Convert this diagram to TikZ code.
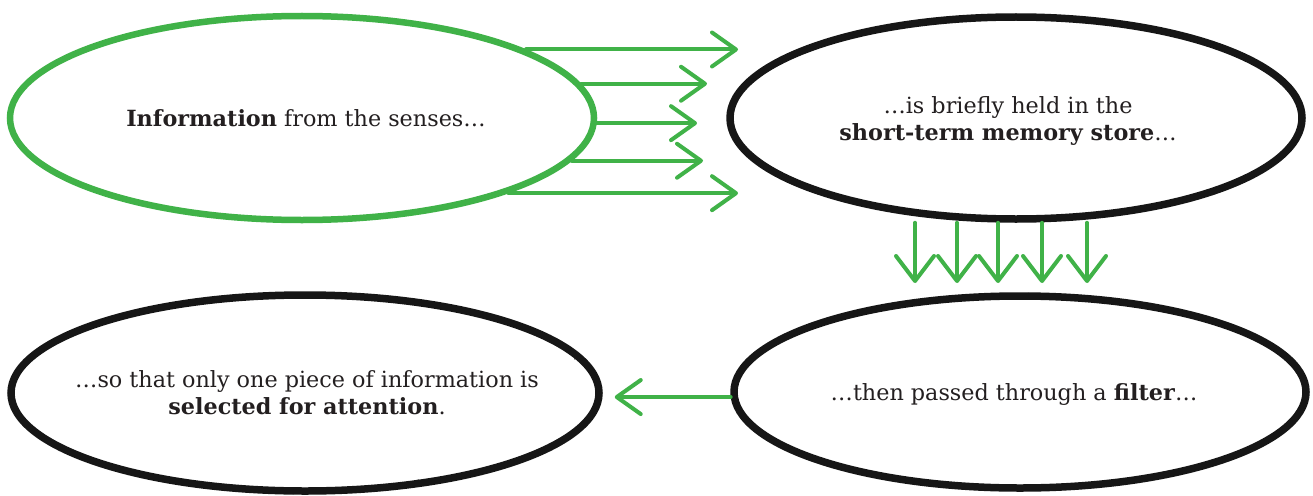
\documentclass[tikz,border=0pt]{standalone}
\usepackage{fontspec}
\setmainfont{DejaVu Serif}
\usetikzlibrary{shapes.geometric,arrows.meta,decorations.pathmorphing}
\definecolor{mkgreen}{RGB}{64,178,72}
\definecolor{mkblack}{RGB}{22,22,22}
\definecolor{txtblack}{RGB}{35,31,32}
\begin{document}
\begin{tikzpicture}[x=1pt,y=-1pt,
  bubble/.style={ellipse, inner sep=0pt},
  bubbletext/.style={align=center, font=\fontsize{22.3}{27}\selectfont, text=txtblack, inner sep=0pt},
  blackbubble/.style={bubble, draw=mkblack, line width=7.5pt,
    postaction={draw=mkblack, line width=1.6pt, decorate,
      decoration={random steps, segment length=2.5pt, amplitude=1.8pt}}},
  greenbubble/.style={bubble, draw=mkgreen, line width=6.5pt},
  garrow/.style={draw=mkgreen, line width=4pt, line cap=round, line join=round,
    -{Straight Barb[length=24pt,width=34pt,line cap=round,line join=round]}},
  gdarrow/.style={garrow, -{Straight Barb[length=25pt,width=38pt,line cap=round,line join=round]}},
]
\pgfmathsetseed{7}
\fill[white] (0,0) rectangle (1313,495);
\useasboundingbox (0,0) rectangle (1313,495);

\node[greenbubble, minimum width=584pt, minimum height=204pt,
  label={[bubbletext, xshift=4pt]center:{\textbf{Information} from the senses…}}] (info) at (302,118) {};
\node[blackbubble, minimum width=572pt, minimum height=202pt,
  label={[bubbletext, xshift=-8pt, yshift=-3pt]center:{…is briefly held in the\\ \textbf{short-term memory store}…}}] (stm) at (1016,118) {};
\node[blackbubble, minimum width=588pt, minimum height=196pt,
  label={[bubbletext, xshift=2pt]center:{…so that only one piece of information is\\ \textbf{selected for attention}.}}] (sel) at (305,393) {};
\node[blackbubble, minimum width=572pt, minimum height=192pt,
  label={[bubbletext, xshift=-6pt, yshift=-3pt]center:{…then passed through a \textbf{filter}…}}] (filt) at (1020,392) {};

% right-pointing arrows ends
\coordinate (r1) at (738,48);
\coordinate (r2) at (707,82);
\coordinate (r3) at (697,120);
\coordinate (r4) at (703,158);
\coordinate (r5) at (738,192);
\draw[garrow] (info.17) -- (info.17 -| r1);
\draw[garrow] (info.7) -- (info.7 -| r2);
\draw[garrow] (info.-1) -- (info.-1 -| r3);
\draw[garrow] (info.-9) -- (info.-9 -| r4);
\draw[garrow] (info.-20) -- (info.-20 -| r5);

% downward arrows ends
\coordinate (d1) at (915,283);
\coordinate (d2) at (957,283);
\coordinate (d3) at (998,283);
\coordinate (d4) at (1042,283);
\coordinate (d5) at (1087,283);
\foreach \d in {d1,d2,d3,d4,d5}
  \draw[gdarrow] (stm.south -| \d) -- (\d);

% left arrow
\draw[garrow, shorten >=12pt] (filt.181.6) -- (filt.181.6 -| sel.east);
\end{tikzpicture}
\end{document}
